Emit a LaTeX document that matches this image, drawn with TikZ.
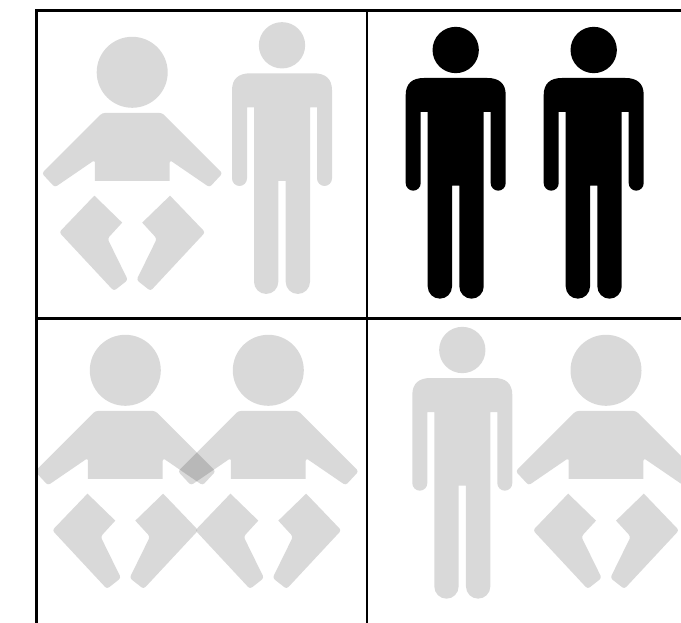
\documentclass[tikz,border=0pt]{standalone}
\tikzset{
  gridline/.style={line width=1.9pt,black,line join=miter},
  pale/.style={fill=black,fill opacity=0.15,draw=none},
  solidblack/.style={fill=black,draw=none}
}
\newcommand{\babyfig}[3]{%
\begin{scope}[x=.25pt,y=-.25pt,shift={(3*#1,3*#2)}]
  \path[#3] (0,0) circle[radius=106.5];
  \path[#3] (-112,326) [sharp corners] -- (-112,268)
    [rounded corners=1pt] -- (-115,265)
    [rounded corners=2pt] -- (-232,345) -- (-271,303) -- (-90,122)
    -- (90,122) -- (271,303) -- (232,345)
    [rounded corners=1pt] -- (115,265) -- (112,268)
    [sharp corners] -- (112,326) -- cycle;
  \path[#3] (-113.5,370) [rounded corners=2pt] -- (-219,480) -- (-55,656) -- (-13,623)
    -- (-74,499) [sharp corners] -- (-30,451) -- cycle;
  \path[#3] (113.5,370) [rounded corners=2pt] -- (219,480) -- (55,656) -- (13,623)
    -- (74,499) [sharp corners] -- (30,451) -- cycle;
\end{scope}}
\newcommand{\manfig}[3]{%
\begin{scope}[x=.25pt,y=-.25pt,shift={(3*#1,3*#2)}]
  \path[#3] (0,0) circle[radius=69.5];
  \path[#3] (-95,84) -- (95,84) .. controls (130,84) and (150,100) .. (150,135)
    -- (150,399.5) arc[start angle=0,end angle=180,radius=22.5]
    -- (105,186) -- (84,186) -- (84,709.5) arc[start angle=0,end angle=180,radius=36.5]
    -- (11,407) -- (-11,407) -- (-11,709.5) arc[start angle=0,end angle=180,radius=36.5]
    -- (-84,186) -- (-105,186) -- (-105,399.5) arc[start angle=0,end angle=180,radius=22.5]
    -- (-150,135) .. controls (-150,100) and (-130,84) .. (-95,84) -- cycle;
\end{scope}}
\begin{document}
\begin{tikzpicture}[x=.75pt,y=-.75pt]
  \useasboundingbox (0,0) rectangle (681,623);
  \clip (0,0) rectangle (681,623);
  \fill[white] (0,0) rectangle (681,623);
  \babyfig{132.2}{72.3}{pale}
  \manfig{282}{45.3}{pale}
  \manfig{455.7}{50}{solidblack}
  \manfig{593.7}{50}{solidblack}
  \babyfig{125.3}{370.3}{pale}
  \babyfig{268.3}{370.3}{pale}
  \manfig{462.3}{350}{pale}
  \babyfig{606}{370.3}{pale}
  \coordinate (tl) at (36.7,10.7);
  \coordinate (tm) at (367,10.7);
  \coordinate (tr) at (681,10.7);
  \coordinate (ml) at (36.7,318.7);
  \coordinate (mr) at (681,318.7);
  \coordinate (bl) at (36.7,623);
  \coordinate (bm) at (367,623);
  \draw[gridline] (bl) -- (tl) -- (tr);
  \draw[gridline] (ml) -- (mr);
  \draw[gridline] (tm) -- (bm);
\end{tikzpicture}
\end{document}
